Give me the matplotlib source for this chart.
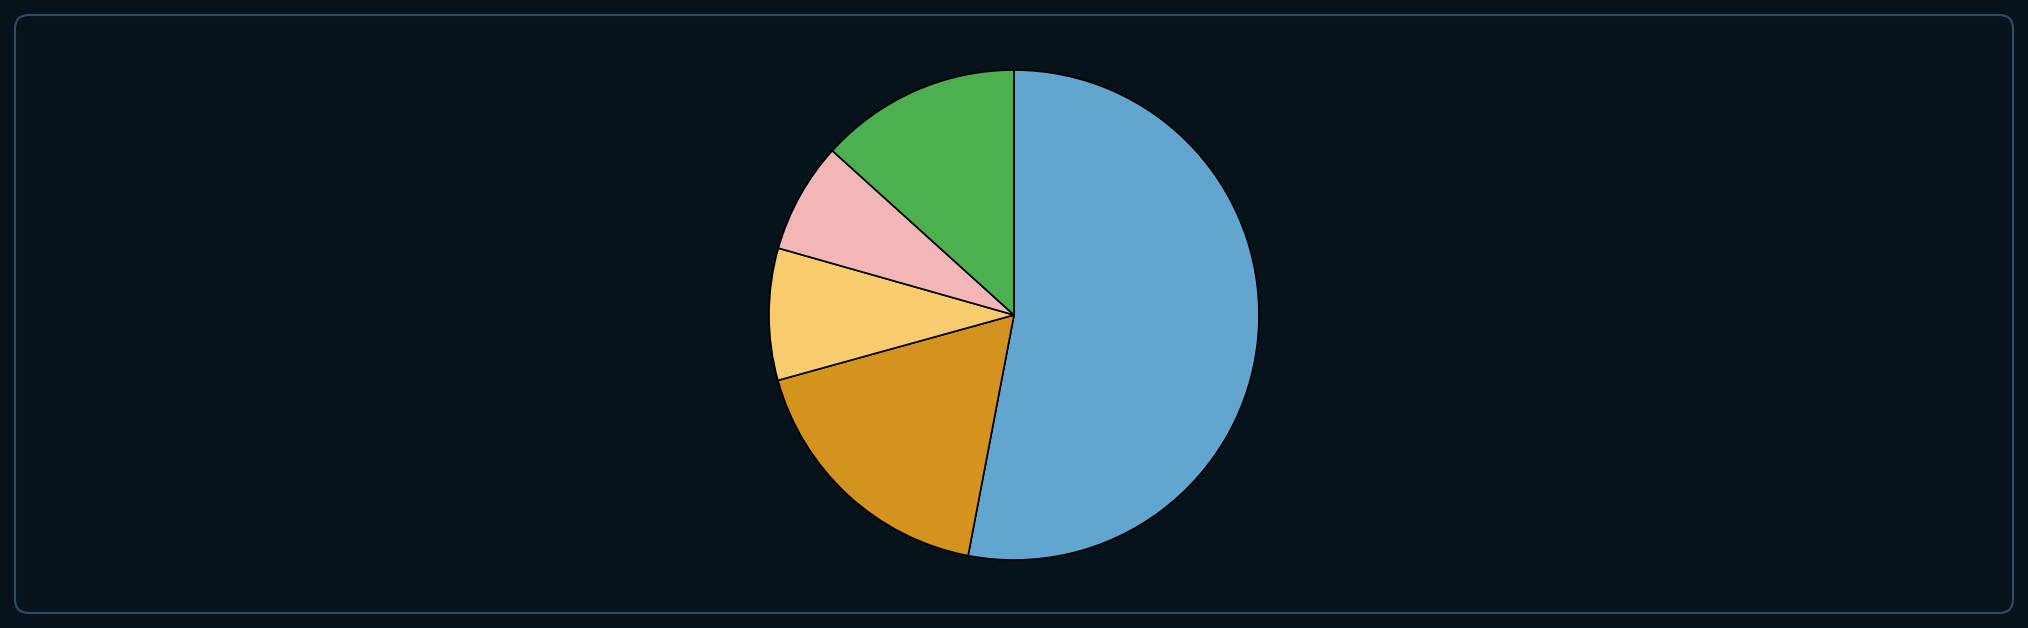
import matplotlib.pyplot as plt
from matplotlib.patches import FancyBboxPatch

labels = ["A", "B", "C", "D", "E"]
shares = [53.0, 17.7, 8.7, 7.3, 13.3]
colors = ["#62a6d0", "#d4921e", "#f9cb6f", "#f1b6b5", "#4caf50"]

W, H = 2028, 628
fig = plt.figure(figsize=(W / 100, H / 100), dpi=100)
fig.patch.set_facecolor("#06131b")

# background axes in pixel units, just for the rounded panel border
bg = fig.add_axes([0, 0, 1, 1])
bg.set_xlim(0, W)
bg.set_ylim(0, H)
bg.axis("off")
bg.add_patch(FancyBboxPatch(
    (15, 15), 2013 - 15, 613 - 15,
    boxstyle="round,pad=0,rounding_size=14",
    facecolor="none", edgecolor="#2a4d68", linewidth=1.5,
))

r = 245
cx, cy = 1014, H - 315
ax = fig.add_axes([(cx - r) / W, (cy - r) / H, 2 * r / W, 2 * r / H])
ax.set_facecolor("none")
ax.pie(
    shares,
    colors=colors,
    startangle=90,
    counterclock=False,
    radius=1,
    wedgeprops={"edgecolor": "black", "linewidth": 1.2},
)
ax.set_xlim(-1, 1)
ax.set_ylim(-1, 1)
ax.set_aspect("equal")
ax.axis("off")

fig.savefig("out.png", dpi=100, facecolor=fig.get_facecolor())
